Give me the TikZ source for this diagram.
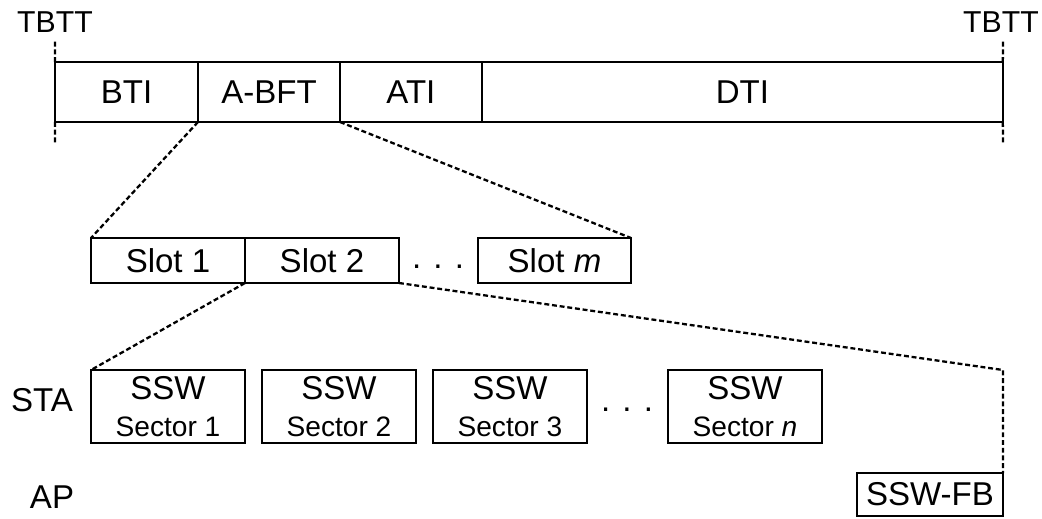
\documentclass[tikz,border=0pt]{standalone}
\usepackage{fontspec}
\setmainfont{Liberation Sans}
\usetikzlibrary{positioning}
\newcommand\sectorfont{\fontsize{16}{18.7}\selectfont}

\begin{document}
\begin{tikzpicture}[x=0.02cm,y=-0.02cm,
		every node/.style={font=\fontsize{18.8}{21}\selectfont},
		box/.style={draw,line width=1.1pt,inner sep=0pt,outer sep=0pt,minimum height=1.2cm},
		slotbox/.style={box,minimum width=3.08cm,minimum height=0.9cm},
		sswbox/.style={box,minimum width=3.08cm,minimum height=1.46cm,align=center},
		zoomline/.style={line width=1.3pt,dash pattern=on 2.8pt off 1.6pt},
		tbttlabel/.style={font=\fontsize{17.2}{19}\selectfont}]
		\useasboundingbox (0,0) rectangle (1042,518);
		% beacon interval
		\node [box,minimum width=2.86cm] (bti) at (126.5,92) {BTI};
		\node [box,minimum width=2.84cm,right=0pt of bti] (abft) {A-BFT};
		\node [box,minimum width=2.84cm,right=0pt of abft] (ati) {ATI};
		\node [box,minimum width=10.42cm,right=0pt of ati] (dti) {DTI};
		\node [tbttlabel] (tbttL) at (55,22) {TBTT};
		\node [tbttlabel] (tbttR) at (1001,22) {TBTT};
		\coordinate (tbttLup) at (55,40);
		\coordinate (tbttLdown) at (55,145);
		\coordinate (tbttRup) at (1003,40);
		\coordinate (tbttRdown) at (1003,145);
		\draw [zoomline] (bti.north west) -- (tbttLup);
		\draw [zoomline] (bti.south west) -- (tbttLdown);
		\draw [zoomline] (dti.north east) -- (tbttRup);
		\draw [zoomline] (dti.south east) -- (tbttRdown);
		% A-BFT slots
		\node [slotbox] (slot1) at (168,260.5) {Slot 1};
		\node [slotbox,right=0pt of slot1] (slot2) {Slot 2};
		\node [anchor=base] (slotdots) at (438,268) {. . .};
		\node [slotbox,minimum width=3.06cm] (slotm) at (554.5,260.5) {Slot \textit{m}};
		\draw [zoomline] (bti.south east) -- (slot1.north west);
		\draw [zoomline] (abft.south east) -- (slotm.north east);
		% sector sweep
		\node (sta) at (42,400.5) {STA};
		\node (ap) at (52,497.5) {AP};
		\node [sswbox] (sec1) at (168,406.5) {SSW\\\sectorfont Sector 1};
		\node [sswbox,right=0.34cm of sec1] (sec2) {SSW\\\sectorfont Sector 2};
		\node [sswbox,right=0.34cm of sec2] (sec3) {SSW\\\sectorfont Sector 3};
		\node [anchor=base] (secdots) at (627,411) {. . .};
		\node [sswbox] (secn) at (745,406.5) {SSW\\\sectorfont Sector \textit{n}};
		\node [box,minimum width=2.92cm,minimum height=0.86cm] (fb) at (930,494.5) {SSW-FB};
		\draw [zoomline] (slot2.south west) -- (sec1.north west);
		\draw [zoomline] (slot2.south east) -- (fb.north east |- secn.north) -- (fb.north east);
	\end{tikzpicture}
\end{document}
